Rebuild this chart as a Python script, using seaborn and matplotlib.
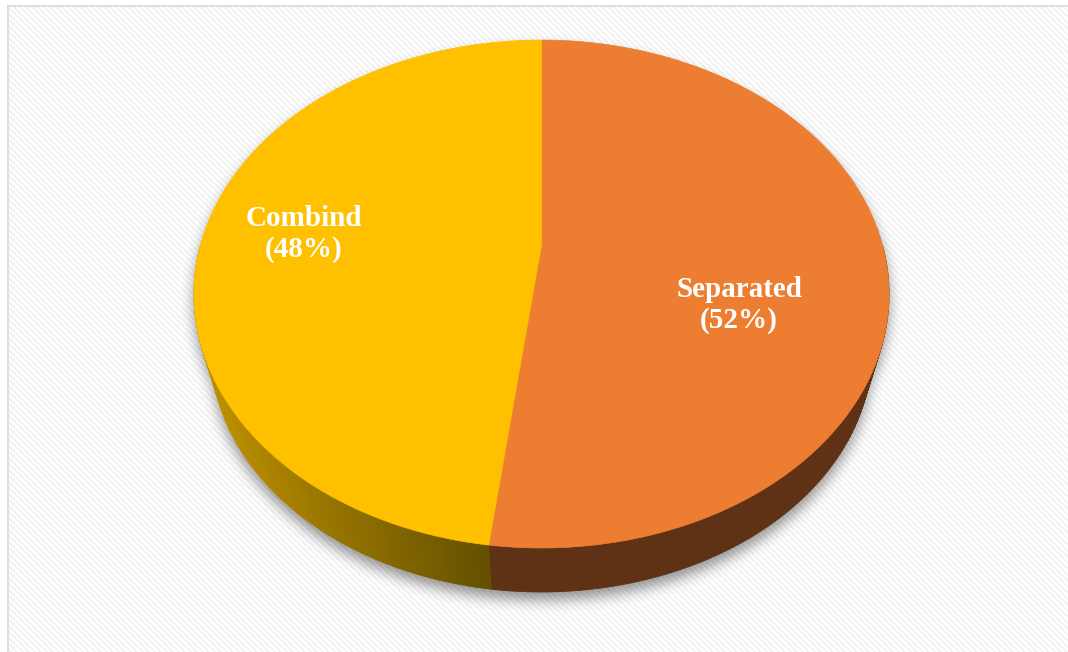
import numpy as np
import matplotlib
matplotlib.use("Agg")
import matplotlib.pyplot as plt
from matplotlib.path import Path
from matplotlib.patches import Polygon
import seaborn as sns

# ---- data ----
categories = ["Separated", "Combind"]
shares = [52, 48]

# ---- style ----
sns.set_theme(style="white")
plt.rcParams["font.family"] = ["Liberation Serif", "DejaVu Serif"]
top_colors = sns.color_palette(["#ED7D31", "#FFC000"])
label_xy = [(739, 305), (304, 234)]          # label anchors in pixel space

W, H = 1068, 652
fig = plt.figure(figsize=(W / 100, H / 100), dpi=100)
ax = fig.add_axes([0, 0, 1, 1])
ax.set_xlim(0, W)
ax.set_ylim(H, 0)
ax.axis("off")

# ---- patterned chart-area background ----
yy, xx = np.mgrid[0:H, 0:W]
bg = np.ones((H, W, 3))
bg[((xx - yy) % 6) < 3] = 0.955
bg[:5, :] = 1.0
bg[:, :7] = 1.0
ax.imshow(bg, extent=(0, W, H, 0), interpolation="nearest", aspect="auto", zorder=0)
ax.plot([7.5, 7.5], [5, H], color="#d9d9d9", lw=1.2, zorder=1, solid_capstyle="butt")
ax.plot([7, W], [5.5, 5.5], color="#d9d9d9", lw=1.2, zorder=1, solid_capstyle="butt")

# ---- perspective projection of a tilted disc ----
CX, CY = 541.5, 245.0            # projected disc centre
R, B, C = 341.0, 244.5, 0.193    # horizontal / depth scale, perspective strength
EY = 294.0                       # centre of the projected top ellipse
BASE_SCALE, BASE_SHIFT = 0.95, 56.7   # base ring: farther away, so smaller


def proj(theta_deg, r=1.0, base=False):
    t = np.radians(theta_deg)
    x = r * np.cos(t)
    z = r * np.sin(t)
    k = 1 + C * z
    px, py = CX + R * x / k, CY - B * z / k
    if base:
        px = CX + BASE_SCALE * (px - CX)
        py = EY + BASE_SCALE * (py - EY) + BASE_SHIFT
    return px, py


# wedge boundaries: start at 12 o'clock, run clockwise
bounds = 90 - 360 * np.concatenate([[0], np.cumsum(shares)]) / sum(shares)

# ---- soft drop shadow ----
full = np.linspace(0, 360, 361)
tx, ty = proj(full)
bx, by = proj(full, base=True)
pts = np.column_stack([xx.ravel() + 0.5, yy.ravel() + 0.5])
mask = (Path(np.column_stack([tx, ty])).contains_points(pts)
        | Path(np.column_stack([bx, by])).contains_points(pts)).reshape(H, W).astype(float)
mask = np.roll(mask, 8, axis=0)


def box_blur(a, r, axis):
    widths = [(r, r) if i == axis else (0, 0) for i in range(2)]
    cs = np.cumsum(np.pad(a, widths, mode="edge"), axis=axis)
    cs = np.insert(cs, 0, 0, axis=axis)
    n = 2 * r + 1
    if axis == 0:
        return (cs[n:, :] - cs[:-n, :]) / n
    return (cs[:, n:] - cs[:, :-n]) / n


for _ in range(3):
    mask = box_blur(mask, 6, 0)
    mask = box_blur(mask, 6, 1)
shadow = np.zeros((H, W, 4))
shadow[..., 3] = 0.42 * mask
ax.imshow(shadow, extent=(0, W, H, 0), interpolation="bilinear", aspect="auto", zorder=2)

# ---- side walls (front half only) ----
side_dark = np.array([0x5F, 0x32, 0x16]) / 255


def side_color(i, xpos):
    if i == 0:
        return side_dark
    t = np.clip((xpos - 200) / (490 - 200), 0, 1)
    light = np.array([198, 150, 0]) / 255
    dark = np.array([100, 80, 0]) / 255
    return light + (dark - light) * t


for i in range(len(shares)):
    hi, lo = bounds[i], bounds[i + 1]
    a0, a1 = max(lo, -180.0), min(hi, 0.0)
    if a1 <= a0:
        continue
    th = np.linspace(a0, a1, 120)
    for j in range(len(th) - 1):
        x0, y0 = proj(th[j])
        x1, y1 = proj(th[j + 1])
        x2, y2 = proj(th[j + 1], base=True)
        x3, y3 = proj(th[j], base=True)
        col = side_color(i, (x2 + x3) / 2)
        ax.add_patch(Polygon([(x0, y0), (x1, y1), (x2, y2), (x3, y3)],
                             closed=True, facecolor=col, edgecolor=col,
                             lw=0.6, zorder=3))

# ---- top faces ----
for i in range(len(shares)):
    th = np.linspace(bounds[i], bounds[i + 1], 240)
    ax_, ay_ = proj(th)
    verts = [(CX, CY)] + list(zip(ax_, ay_))
    ax.add_patch(Polygon(verts, closed=True, facecolor=top_colors[i],
                         edgecolor=top_colors[i], lw=0.5, zorder=4))

# ---- labels ----
for (cat, share), (lx, ly) in zip(zip(categories, shares), label_xy):
    ax.text(lx, ly, f"{cat}\n({share}%)", ha="center", va="center",
            fontsize=21, fontweight="bold", color="white",
            linespacing=1.2, zorder=5)

fig.savefig("out.png", dpi=100)
